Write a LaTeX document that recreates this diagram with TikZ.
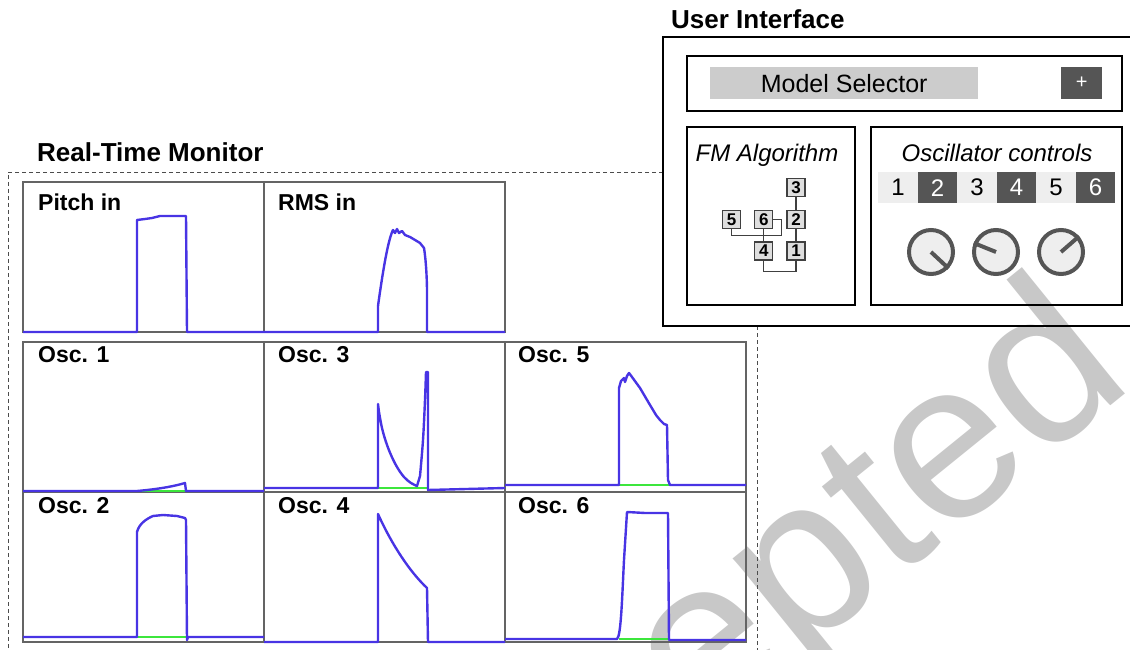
\documentclass[tikz,border=0pt]{standalone}
\usepackage{fontspec}
\setmainfont{Liberation Sans}
\usetikzlibrary{positioning}

\definecolor{sigblue}{RGB}{72,52,228}
\definecolor{siggreen}{RGB}{60,230,60}
\definecolor{framegray}{RGB}{100,100,100}
\definecolor{darkbtn}{RGB}{85,85,85}
\definecolor{lightbtn}{RGB}{238,238,238}
\definecolor{selgray}{RGB}{204,204,204}
\definecolor{markgray}{RGB}{200,200,200}
\newcommand{\fsz}[1]{\fontsize{#1}{#1}\selectfont}

\begin{document}
\begin{tikzpicture}[x=1pt,y=-1pt,
  title/.style={font=\fsz{26}\bfseries,anchor=base west,inner sep=0pt},
  plabel/.style={font=\fsz{23}\bfseries,anchor=base west,inner sep=0pt},
  panel/.style={draw=framegray,line width=2pt,minimum width=241pt,minimum height=150pt,anchor=north west,inner sep=0pt,outer sep=0pt},
  sig/.style={sigblue,line width=2.4pt,line join=round},
  gate/.style={siggreen,line width=1.5pt},
  box/.style={draw,line width=2pt,anchor=north west,inner sep=0pt,outer sep=0pt},
  op/.style={draw=black!75,fill=black!13,line width=1.2pt,minimum size=18pt,inner sep=0pt,font=\fsz{17}\bfseries},
  wire/.style={black!75,line width=1.2pt},
  tab/.style={minimum width=39.5pt,minimum height=31pt,inner sep=0pt,anchor=north west,font=\fsz{24}},
  tablt/.style={fill=lightbtn,text=black},
  tabdk/.style={fill=darkbtn,text=white},
  knob/.style={circle,draw=darkbtn,fill=lightbtn,line width=4pt,minimum size=44pt,inner sep=0pt},
  knobptr/.style={darkbtn,line width=4pt}
]
\useasboundingbox (0,0) rectangle (1130,650);

% watermark, behind everything
\begin{scope}
\clip (0,0) rectangle (1130,650);
\node[font=\fsz{225},text=markgray,rotate=39,inner sep=0pt] (stamp) at (736,635) {Accepted};
\end{scope}

% real-time monitor
\node[title] (montitle) at (37,162) {Real-Time Monitor};
\draw[black!70,line width=0.8pt,dash pattern=on 4pt off 3pt] (663,172) -- (8,172) -- (8,655);
\draw[black!70,line width=0.8pt,dash pattern=on 4pt off 3pt] (757,326) -- (757,655);

\node[panel] (pitch) at (23,182) {};
\node[panel] (rms) at (264,182) {};
\node[panel] (osc1) at (23,342) {};
\node[panel] (osc3) at (264,342) {};
\node[panel] (osc5) at (505,342) {};
\node[panel] (osc2) at (23,492) {};
\node[panel] (osc4) at (264,492) {};
\node[panel] (osc6) at (505,492) {};

\node[plabel] (pitchlbl) at (38,210) {Pitch in};
\node[plabel] (rmslbl) at (278,210) {RMS in};
\node[plabel] (osc1lbl) at (38,362) {Osc. 1};
\node[plabel] (osc3lbl) at (278,362) {Osc. 3};
\node[plabel] (osc5lbl) at (518,362) {Osc. 5};
\node[plabel] (osc2lbl) at (38,513) {Osc. 2};
\node[plabel] (osc4lbl) at (278,513) {Osc. 4};
\node[plabel] (osc6lbl) at (518,513) {Osc. 6};

% traces
\draw[sig] (23,332) -- (137,332) -- (137,220) -- (145,219) -- (152,218) -- (160,216) -- (186,216) -- (187,332) -- (264,332);
\draw[sig] (264,332) -- (378,332) -- (378,306) .. controls (383,270) and (388,240) .. (393,230) -- (395,233) -- (397,229) -- (399,233) -- (402,231) -- (405,235) -- (410,237) -- (415,240) -- (420,243) -- (424,248) .. controls (426,260) and (427,280) .. (427,292) -- (427,332) -- (505,332);

\draw[gate] (137,491) -- (186,491);
\draw[sig] (23,491) -- (137,491) .. controls (160,489) and (175,486) .. (185,483) -- (186,491) -- (264,491);

\draw[gate] (378,488) -- (427,488);
\draw[sig] (264,488) -- (378,488) -- (378,404) -- plot[smooth,tension=.6] coordinates {(379,412) (382,428) (386,442) (391,455) (397,467) (404,477) (411,483) (417,486)} -- plot[smooth,tension=.6] coordinates {(420,476) (423,440) (425,400) (426,372)} -- (428,372) -- (428,490) -- (505,488);

\draw[gate] (619,485) -- (670,485);
\draw[sig] (505,485) -- (619,485) -- (619,388) -- (621,381) -- (624,378) -- (625,382) -- (627,376) -- (629,373) -- (632,377) -- (640,388) -- (650,405) -- (656,415) -- (660,420) -- (664,424) -- (667,425) -- (668,480) -- (670,485) -- (746,485);

\draw[gate] (137,637) -- (187,637);
\draw[sig] (23,637) -- (137,637) -- (137,532) .. controls (139,524) and (146,519) .. (153,516) -- (163,515) -- (177,516) -- (185,518) -- (186,520) -- (187,640) -- (188,637) -- (264,637);

\draw[sig] (264,642) -- (378,642) -- (378,514) .. controls (392,545) and (410,572) .. (427,588) -- (428,642) -- (505,642);

\draw[gate] (619,639) -- (669,639);
\draw[sig] (505,639) -- (617,639) .. controls (621,636) and (622,600) .. (624,560) -- (627,512) -- (645,513) -- (668,513) -- (669,640) -- (746,640);

% user interface
\node[title] (uititle) at (671,29) {User Interface};
\node[box,minimum width=480pt,minimum height=289pt] (ui) at (663,37) {};
\node[box,minimum width=435pt,minimum height=55pt] (selrow) at (687,56) {};
\node[anchor=north west,fill=selgray,minimum width=268pt,minimum height=32pt,inner sep=0pt,font=\fsz{25}] (selbar) at (710,67) {Model Selector};
\node[anchor=north west,fill=darkbtn,text=white,minimum width=41pt,minimum height=32pt,inner sep=0pt,font=\fsz{20}] (addbtn) at (1061,67) {+};

\node[box,minimum width=168pt,minimum height=178pt] (fmbox) at (687,127) {};
\node[box,minimum width=251pt,minimum height=178pt] (oscbox) at (871,127) {};
\node[font=\fsz{24}\itshape,anchor=base,inner sep=0pt] (fmlbl) at (767,162) {FM Algorithm};
\node[font=\fsz{24}\itshape,anchor=base,inner sep=0pt] (osclbl) at (997,162) {Oscillator controls};

% algorithm graph
\node[op] (op3) at (796,187.5) {3};
\node[op,below=13pt of op3] (op2) {2};
\node[op,below=12pt of op2] (op1) {1};
\node[op,left=13pt of op2] (op6) {6};
\node[op,left=13pt of op6] (op5) {5};
\node[op,below=12pt of op6] (op4) {4};
\draw[wire] (op3) -- (op2);
\draw[wire] (op2) -- (op1);
\draw[wire] (op6) -- (op4);
\draw[wire] (op6.east) -- ++(8,0) -- ++(0,16) -| (op5.south);
\draw[wire] (op4.south) -- ++(0,11) -| (op1.south);

% oscillator tabs and knobs
\foreach \n/\sty in {1/tablt,2/tabdk,3/tablt,4/tabdk,5/tablt,6/tabdk}
  \node[tab,\sty] (tab\n) at ({878+39.5*(\n-1)},172) {\n};
\node[knob] (k1) at (931,252) {};
\node[knob] (k2) at (996,252) {};
\node[knob] (k3) at (1061,252) {};
\draw[knobptr] (k1.center) -- (k1.-43);
\draw[knobptr] (k2.center) -- (k2.158);
\draw[knobptr] (k3.center) -- (k3.41);
\end{tikzpicture}
\end{document}
